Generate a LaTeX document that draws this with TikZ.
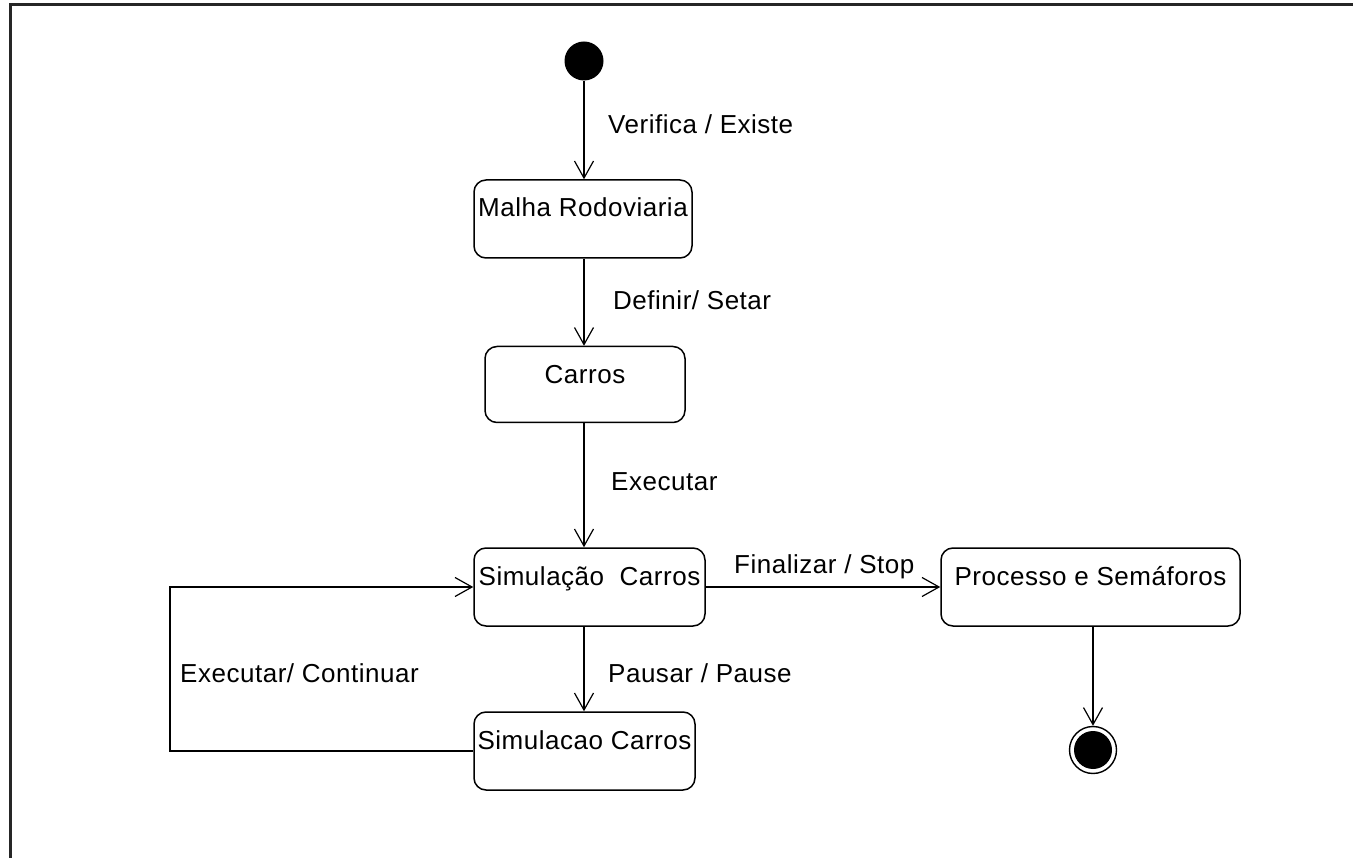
\documentclass[tikz,border=0pt]{standalone}
\usepackage{fontspec}
\setmainfont{Liberation Sans}[LetterSpace=2]
\usetikzlibrary{arrows.meta}
\tikzset{
  state/.style={draw, line width=1.5pt, rounded corners=12pt, inner sep=0pt,
    minimum width=#1, text height=37pt, align=center},
  trans/.style={line width=1.5pt, -{Straight Barb[length=17pt,width=19pt,line width=1.2pt]}},
  evt/.style={anchor=west, inner sep=0pt},
}
\begin{document}
\begin{tikzpicture}[x=1pt,y=-1pt,font=\fontsize{26}{30}\selectfont]
\useasboundingbox (0,0) rectangle (1353,858);
% page frame (only top and left edges visible)
\draw[line width=3pt, black!85] (10,858) -- (10,5) -- (1353,5);

% initial and final pseudo-states
\node[circle, fill=black, minimum size=39pt, inner sep=0pt] (init) at (584,61) {};
\node[circle, draw, line width=1.4pt, minimum size=47pt, inner sep=0pt] (fin) at (1093,750) {};
\node[circle, fill=black, minimum size=38pt, inner sep=0pt] (finc) at (fin) {};

% states
\node[state=218pt, text depth=41pt] (malha) at (583,219) {Malha Rodoviaria};
\node[state=200pt, text depth=39pt] (carros) at (585,384.5) {Carros};
\node[state=231pt, text depth=41pt] (sim1) at (589.5,587) {Simulação\ \ Carros};
\node[state=299pt, text depth=41pt] (proc) at (1090.5,587) {Processo e Semáforos};
\node[state=221pt, text depth=41pt] (sim2) at (584.5,751) {Simulacao Carros};

% transitions
\draw[trans] (init) -- (malha.north -| init);
\draw[trans] (malha.south -| init) -- (carros.north -| init);
\draw[trans] (carros.south -| init) -- (sim1.north -| init);
\draw[trans] (sim1.south -| init) -- (sim2.north -| init);
\draw[trans] (sim1.east) -- (proc.west);
\draw[trans] (proc.south -| fin) -- (fin.north);
\coordinate (loopbl) at (170,751);
\draw[trans] (sim2.west) -- (loopbl) |- (sim1.west);

% transition labels
\node[evt] (l1) at (608,124) {Verifica / Existe};
\node[evt] (l2) at (613,300) {Definir/ Setar};
\node[evt] (l3) at (611,482) {Executar};
\node[evt] (l4) at (734,567) {Finalizar / Stop};
\node[evt] (l5) at (608,673) {Pausar / Pause};
\node[evt] (l6) at (180,673) {Executar/ Continuar};
\end{tikzpicture}
\end{document}
